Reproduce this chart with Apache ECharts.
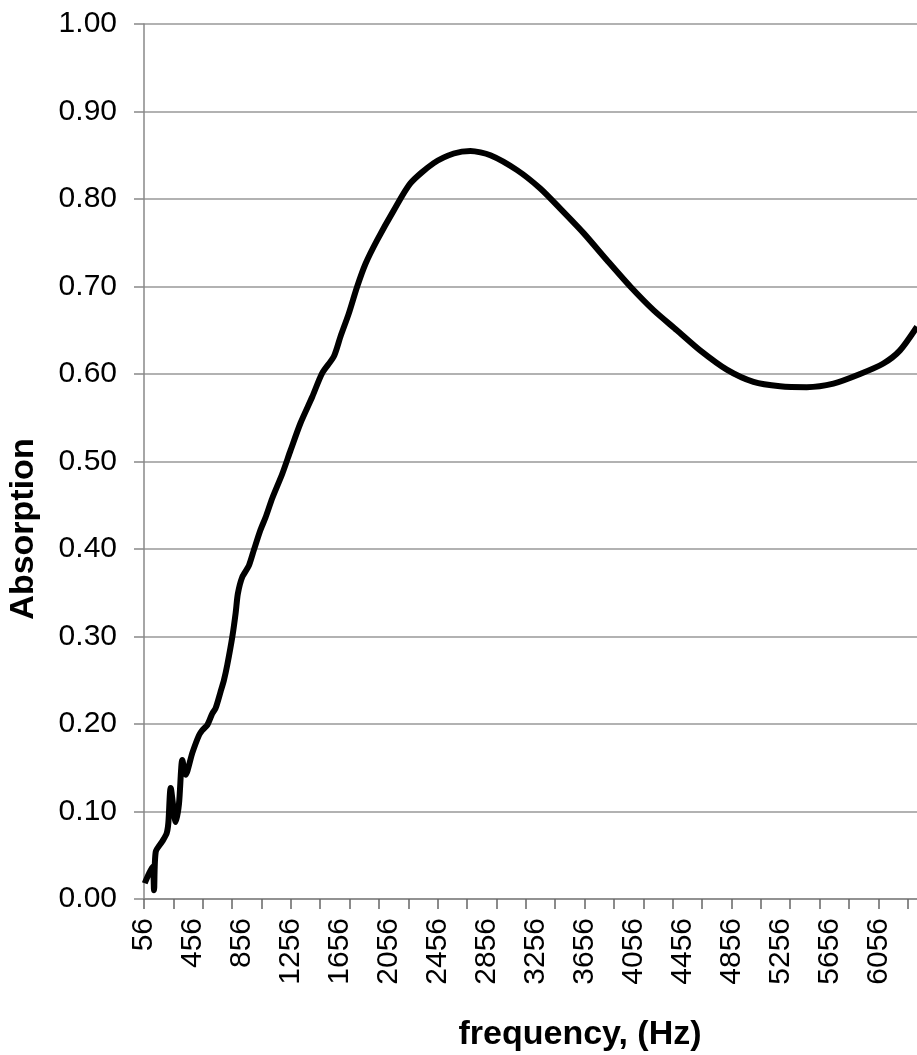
<!DOCTYPE html>
<html lang="en">

<head>
  <meta charset="UTF-8">
  <meta name="viewport" content="width=device-width, initial-scale=1.0">
  <title>Absorption</title>
  <script src="https://cdn.jsdelivr.net/npm/echarts@6.0.0/dist/echarts.min.js"></script>
  <style>
    html, body { margin: 0; padding: 0; background: #fff; }
  </style>
</head>

<body>
  <div id="main" style="width: 917px;height:1055px;"></div>

  <script type="text/javascript">

    // frequency (Hz) and absorption
    let freq = [62, 125, 138, 152, 206, 241, 255, 274, 315, 342, 369, 396, 451, 505, 533, 574,
      614, 641, 682, 709, 737, 778, 805, 823, 859, 913, 954, 1008, 1049, 1104, 1186, 1254, 1335,
      1431, 1512, 1607, 1662, 1729, 1798, 1866, 1961, 2097, 2233, 2423, 2587, 2723, 2886, 3104,
      3294, 3457, 3648, 3839, 4029, 4219, 4410, 4600, 4818, 5036, 5253, 5471, 5689, 5907, 6097,
      6233, 6372];
    let absorption = [0.018, 0.037, 0.010, 0.054, 0.066, 0.075, 0.087, 0.127, 0.088, 0.109, 0.159,
      0.142, 0.167, 0.187, 0.193, 0.199, 0.212, 0.218, 0.237, 0.250, 0.268, 0.300, 0.327, 0.349,
      0.368, 0.381, 0.399, 0.422, 0.436, 0.458, 0.486, 0.513, 0.544, 0.574, 0.601, 0.620, 0.643,
      0.669, 0.700, 0.726, 0.753, 0.787, 0.818, 0.841, 0.852, 0.855, 0.850, 0.833, 0.812, 0.789,
      0.761, 0.730, 0.700, 0.673, 0.650, 0.627, 0.605, 0.591, 0.586, 0.585, 0.589, 0.600, 0.612,
      0.627, 0.654];

    // x tick labels and tick marks
    let xLabels = [56, 456, 856, 1256, 1656, 2056, 2456, 2856, 3256, 3656, 4056, 4456, 4856,
      5256, 5656, 6056];
    let xTicks = [56, 296, 536, 776, 1016, 1256, 1496, 1736, 1976, 2216, 2456, 2696, 2936, 3176,
      3416, 3656, 3896, 4136, 4376, 4616, 4856, 5096, 5336, 5576, 5816, 6056, 6296];

    let myChart = echarts.init(document.getElementById('main'));

    let options = {
      animation: false,
      grid: { left: 144, right: 0, top: 24, bottom: 156 },
      xAxis: {
        type: 'value',
        min: 56,
        max: 6372,
        axisLine: { lineStyle: { color: '#888', width: 1.5 } },
        axisTick: {
          show: true, customValues: xTicks, length: 10,
          lineStyle: { color: '#666', width: 1.5 }
        },
        axisLabel: {
          customValues: xLabels,
          rotate: 90,
          margin: 19,
          color: '#000',
          fontSize: 30,
          fontFamily: 'Liberation Sans',
          formatter: v => String(v)
        },
        splitLine: { show: false }
      },
      yAxis: {
        type: 'value',
        min: 0,
        max: 1,
        interval: 0.1,
        axisLine: { show: true, lineStyle: { color: '#888', width: 1.5 } },
        axisTick: { show: true, length: 10, lineStyle: { color: '#888', width: 1.5 } },
        axisLabel: {
          margin: 27,
          color: '#000',
          fontSize: 30,
          fontFamily: 'Liberation Sans',
          formatter: v => v.toFixed(2)
        },
        splitLine: { lineStyle: { color: '#999', width: 1.5 } }
      },
      graphic: [
        {
          type: 'text', x: 24, y: 529, rotation: Math.PI / 2,
          style: {
            text: 'Absorption', fill: '#000', font: 'bold 34px "Liberation Sans"',
            textAlign: 'center', textVerticalAlign: 'middle'
          }
        },
        {
          type: 'text', x: 580, y: 1035,
          style: {
            text: 'frequency, (Hz)', fill: '#000', font: 'bold 34px "Liberation Sans"',
            textAlign: 'center', textVerticalAlign: 'middle'
          }
        }
      ],
      series: [{
        name: 'absorption',
        type: 'line',
        data: freq.map((f, i) => [f, absorption[i]]),
        showSymbol: false,
        smooth: 0.25,
        lineStyle: { color: '#000', width: 6 }
      }]
    };

    myChart.setOption(options);
  </script>

</body>

</html>
